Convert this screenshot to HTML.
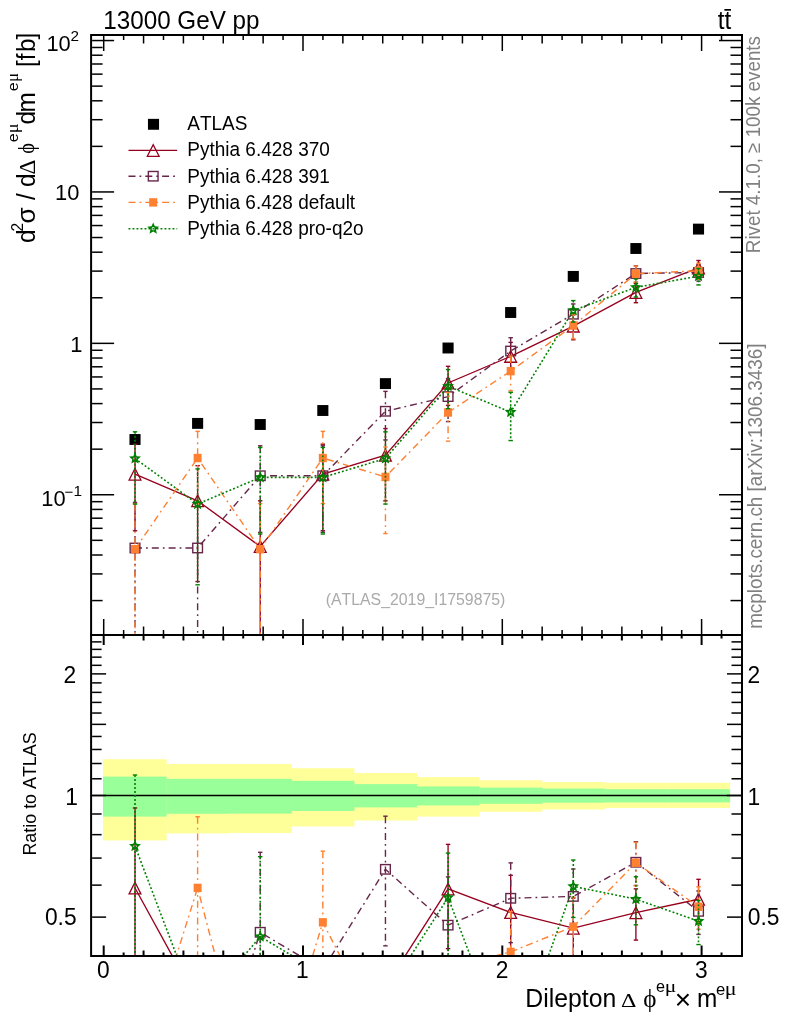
<!DOCTYPE html>
<html><head><meta charset="utf-8"><title>plot</title><style>html,body{margin:0;padding:0;background:#fff}svg{display:block}text{font-kerning:none;font-variant-ligatures:none}</style></head><body>
<svg width="786" height="1024" viewBox="0 0 786 1024" font-family="'Liberation Sans', sans-serif">
<rect width="786" height="1024" fill="#fff"/>
<defs>
<clipPath id="cm"><rect x="92.1" y="36.0" width="648.9" height="598.0"/></clipPath>
<clipPath id="cr"><rect x="92.1" y="636.0" width="648.9" height="319.0"/></clipPath>
</defs>
<rect x="103.00" y="759.2" width="63.61" height="81.20" fill="#ffff99"/>
<rect x="166.31" y="764.0" width="62.91" height="69.40" fill="#ffff99"/>
<rect x="228.92" y="764.0" width="62.91" height="69.00" fill="#ffff99"/>
<rect x="291.54" y="768.2" width="62.91" height="58.20" fill="#ffff99"/>
<rect x="354.15" y="773.0" width="62.91" height="47.50" fill="#ffff99"/>
<rect x="416.76" y="777.1" width="62.91" height="39.50" fill="#ffff99"/>
<rect x="479.37" y="780.2" width="62.91" height="31.60" fill="#ffff99"/>
<rect x="541.98" y="782.0" width="62.91" height="27.50" fill="#ffff99"/>
<rect x="604.60" y="782.8" width="62.91" height="25.20" fill="#ffff99"/>
<rect x="667.21" y="782.8" width="62.91" height="25.20" fill="#ffff99"/>
<rect x="103.00" y="776.6" width="63.61" height="40.00" fill="#99ff99"/>
<rect x="166.31" y="778.8" width="62.91" height="35.00" fill="#99ff99"/>
<rect x="228.92" y="778.8" width="62.91" height="34.80" fill="#99ff99"/>
<rect x="291.54" y="780.8" width="62.91" height="30.20" fill="#99ff99"/>
<rect x="354.15" y="784.1" width="62.91" height="23.30" fill="#99ff99"/>
<rect x="416.76" y="786.4" width="62.91" height="19.00" fill="#99ff99"/>
<rect x="479.37" y="787.6" width="62.91" height="16.20" fill="#99ff99"/>
<rect x="541.98" y="788.5" width="62.91" height="14.20" fill="#99ff99"/>
<rect x="604.60" y="789.2" width="62.91" height="13.20" fill="#99ff99"/>
<rect x="667.21" y="789.2" width="62.91" height="13.20" fill="#99ff99"/>
<g clip-path="url(#cm)">
<rect x="129.46" y="434.05" width="11.1" height="10.9" fill="#000"/>
<rect x="192.07" y="417.95" width="11.1" height="10.9" fill="#000"/>
<rect x="254.68" y="419.05" width="11.1" height="10.9" fill="#000"/>
<rect x="317.29" y="405.05" width="11.1" height="10.9" fill="#000"/>
<rect x="379.90" y="378.15" width="11.1" height="10.9" fill="#000"/>
<rect x="442.52" y="342.55" width="11.1" height="10.9" fill="#000"/>
<rect x="505.13" y="307.05" width="11.1" height="10.9" fill="#000"/>
<rect x="567.74" y="270.95" width="11.1" height="10.9" fill="#000"/>
<rect x="630.35" y="243.05" width="11.1" height="10.9" fill="#000"/>
<rect x="692.96" y="223.65" width="11.1" height="10.9" fill="#000"/>
<polyline points="135.01,474.15 197.62,500.81 260.23,546.38 322.84,474.15 385.45,455.23 448.07,382.99 510.68,356.33 573.29,326.12 635.90,292.39 698.51,267.98" fill="none" stroke="#96001e" stroke-width="1.35" />
<line x1="135.01" y1="444.18" x2="135.01" y2="530.77" stroke="#96001e" stroke-width="1.35" />
<line x1="132.81" y1="444.18" x2="137.21" y2="444.18" stroke="#96001e" stroke-width="1.4" />
<line x1="132.81" y1="530.77" x2="137.21" y2="530.77" stroke="#96001e" stroke-width="1.4" />
<line x1="197.62" y1="465.64" x2="197.62" y2="581.55" stroke="#96001e" stroke-width="1.35" />
<line x1="195.42" y1="465.64" x2="199.82" y2="465.64" stroke="#96001e" stroke-width="1.4" />
<line x1="195.42" y1="581.55" x2="199.82" y2="581.55" stroke="#96001e" stroke-width="1.4" />
<line x1="260.23" y1="500.81" x2="260.23" y2="700.00" stroke="#96001e" stroke-width="1.35" />
<line x1="258.03" y1="500.81" x2="262.43" y2="500.81" stroke="#96001e" stroke-width="1.4" />
<line x1="322.84" y1="444.18" x2="322.84" y2="530.77" stroke="#96001e" stroke-width="1.35" />
<line x1="320.64" y1="444.18" x2="325.04" y2="444.18" stroke="#96001e" stroke-width="1.4" />
<line x1="320.64" y1="530.77" x2="325.04" y2="530.77" stroke="#96001e" stroke-width="1.4" />
<line x1="385.45" y1="428.57" x2="385.45" y2="500.81" stroke="#96001e" stroke-width="1.35" />
<line x1="383.25" y1="428.57" x2="387.65" y2="428.57" stroke="#96001e" stroke-width="1.4" />
<line x1="383.25" y1="500.81" x2="387.65" y2="500.81" stroke="#96001e" stroke-width="1.4" />
<line x1="448.07" y1="366.32" x2="448.07" y2="405.39" stroke="#96001e" stroke-width="1.35" />
<line x1="445.87" y1="366.32" x2="450.27" y2="366.32" stroke="#96001e" stroke-width="1.4" />
<line x1="445.87" y1="405.39" x2="450.27" y2="405.39" stroke="#96001e" stroke-width="1.4" />
<line x1="510.68" y1="342.42" x2="510.68" y2="374.01" stroke="#96001e" stroke-width="1.35" />
<line x1="508.48" y1="342.42" x2="512.88" y2="342.42" stroke="#96001e" stroke-width="1.4" />
<line x1="508.48" y1="374.01" x2="512.88" y2="374.01" stroke="#96001e" stroke-width="1.4" />
<line x1="573.29" y1="314.83" x2="573.29" y2="339.76" stroke="#96001e" stroke-width="1.35" />
<line x1="571.09" y1="314.83" x2="575.49" y2="314.83" stroke="#96001e" stroke-width="1.4" />
<line x1="571.09" y1="339.76" x2="575.49" y2="339.76" stroke="#96001e" stroke-width="1.4" />
<line x1="635.90" y1="283.49" x2="635.90" y2="302.69" stroke="#96001e" stroke-width="1.35" />
<line x1="633.70" y1="283.49" x2="638.10" y2="283.49" stroke="#96001e" stroke-width="1.4" />
<line x1="633.70" y1="302.69" x2="638.10" y2="302.69" stroke="#96001e" stroke-width="1.4" />
<line x1="698.51" y1="260.51" x2="698.51" y2="276.42" stroke="#96001e" stroke-width="1.35" />
<line x1="696.31" y1="260.51" x2="700.71" y2="260.51" stroke="#96001e" stroke-width="1.4" />
<line x1="696.31" y1="276.42" x2="700.71" y2="276.42" stroke="#96001e" stroke-width="1.4" />
<path d="M129.11 480.05L135.01 468.40L140.91 480.05Z" fill="none" stroke="#96001e" stroke-width="1.3" stroke-linejoin="miter"/>
<path d="M191.72 506.71L197.62 495.06L203.52 506.71Z" fill="none" stroke="#96001e" stroke-width="1.3" stroke-linejoin="miter"/>
<path d="M254.33 552.28L260.23 540.63L266.13 552.28Z" fill="none" stroke="#96001e" stroke-width="1.3" stroke-linejoin="miter"/>
<path d="M316.94 480.05L322.84 468.40L328.74 480.05Z" fill="none" stroke="#96001e" stroke-width="1.3" stroke-linejoin="miter"/>
<path d="M379.55 461.13L385.45 449.48L391.35 461.13Z" fill="none" stroke="#96001e" stroke-width="1.3" stroke-linejoin="miter"/>
<path d="M442.17 388.89L448.07 377.24L453.97 388.89Z" fill="none" stroke="#96001e" stroke-width="1.3" stroke-linejoin="miter"/>
<path d="M504.78 362.23L510.68 350.58L516.58 362.23Z" fill="none" stroke="#96001e" stroke-width="1.3" stroke-linejoin="miter"/>
<path d="M567.39 332.02L573.29 320.37L579.19 332.02Z" fill="none" stroke="#96001e" stroke-width="1.3" stroke-linejoin="miter"/>
<path d="M630.00 298.29L635.90 286.64L641.80 298.29Z" fill="none" stroke="#96001e" stroke-width="1.3" stroke-linejoin="miter"/>
<path d="M692.61 273.88L698.51 262.23L704.41 273.88Z" fill="none" stroke="#96001e" stroke-width="1.3" stroke-linejoin="miter"/>
<polyline points="135.01,547.99 197.62,547.99 260.23,475.75 322.84,475.75 385.45,411.26 448.07,396.59 510.68,351.01 573.29,314.22 635.90,273.51 698.51,272.51" fill="none" stroke="#672649" stroke-width="1.4" stroke-dasharray="7 4 1.8 4"/>
<line x1="135.01" y1="502.41" x2="135.01" y2="700.00" stroke="#672649" stroke-width="1.4" stroke-dasharray="7 4 1.8 4"/>
<line x1="132.81" y1="502.41" x2="137.21" y2="502.41" stroke="#672649" stroke-width="1.4" />
<line x1="197.62" y1="502.41" x2="197.62" y2="700.00" stroke="#672649" stroke-width="1.4" stroke-dasharray="7 4 1.8 4"/>
<line x1="195.42" y1="502.41" x2="199.82" y2="502.41" stroke="#672649" stroke-width="1.4" />
<line x1="260.23" y1="445.79" x2="260.23" y2="532.38" stroke="#672649" stroke-width="1.4" stroke-dasharray="7 4 1.8 4"/>
<line x1="258.03" y1="445.79" x2="262.43" y2="445.79" stroke="#672649" stroke-width="1.4" />
<line x1="258.03" y1="532.38" x2="262.43" y2="532.38" stroke="#672649" stroke-width="1.4" />
<line x1="322.84" y1="445.79" x2="322.84" y2="532.38" stroke="#672649" stroke-width="1.4" stroke-dasharray="7 4 1.8 4"/>
<line x1="320.64" y1="445.79" x2="325.04" y2="445.79" stroke="#672649" stroke-width="1.4" />
<line x1="320.64" y1="532.38" x2="325.04" y2="532.38" stroke="#672649" stroke-width="1.4" />
<line x1="385.45" y1="391.36" x2="385.45" y2="439.95" stroke="#672649" stroke-width="1.4" stroke-dasharray="7 4 1.8 4"/>
<line x1="383.25" y1="391.36" x2="387.65" y2="391.36" stroke="#672649" stroke-width="1.4" />
<line x1="383.25" y1="439.95" x2="387.65" y2="439.95" stroke="#672649" stroke-width="1.4" />
<line x1="448.07" y1="378.52" x2="448.07" y2="421.58" stroke="#672649" stroke-width="1.4" stroke-dasharray="7 4 1.8 4"/>
<line x1="445.87" y1="378.52" x2="450.27" y2="378.52" stroke="#672649" stroke-width="1.4" />
<line x1="445.87" y1="421.58" x2="450.27" y2="421.58" stroke="#672649" stroke-width="1.4" />
<line x1="510.68" y1="337.74" x2="510.68" y2="367.65" stroke="#672649" stroke-width="1.4" stroke-dasharray="7 4 1.8 4"/>
<line x1="508.48" y1="337.74" x2="512.88" y2="337.74" stroke="#672649" stroke-width="1.4" />
<line x1="508.48" y1="367.65" x2="512.88" y2="367.65" stroke="#672649" stroke-width="1.4" />
<line x1="573.29" y1="303.95" x2="573.29" y2="326.39" stroke="#672649" stroke-width="1.4" stroke-dasharray="7 4 1.8 4"/>
<line x1="571.09" y1="303.95" x2="575.49" y2="303.95" stroke="#672649" stroke-width="1.4" />
<line x1="571.09" y1="326.39" x2="575.49" y2="326.39" stroke="#672649" stroke-width="1.4" />
<line x1="635.90" y1="265.83" x2="635.90" y2="282.22" stroke="#672649" stroke-width="1.4" stroke-dasharray="7 4 1.8 4"/>
<line x1="633.70" y1="265.83" x2="638.10" y2="265.83" stroke="#672649" stroke-width="1.4" />
<line x1="633.70" y1="282.22" x2="638.10" y2="282.22" stroke="#672649" stroke-width="1.4" />
<line x1="698.51" y1="264.88" x2="698.51" y2="281.15" stroke="#672649" stroke-width="1.4" stroke-dasharray="7 4 1.8 4"/>
<line x1="696.31" y1="264.88" x2="700.71" y2="264.88" stroke="#672649" stroke-width="1.4" />
<line x1="696.31" y1="281.15" x2="700.71" y2="281.15" stroke="#672649" stroke-width="1.4" />
<rect x="130.16" y="543.27" width="9.7" height="9.45" fill="none" stroke="#672649" stroke-width="1.4"/>
<rect x="192.77" y="543.27" width="9.7" height="9.45" fill="none" stroke="#672649" stroke-width="1.4"/>
<rect x="255.38" y="471.03" width="9.7" height="9.45" fill="none" stroke="#672649" stroke-width="1.4"/>
<rect x="317.99" y="471.03" width="9.7" height="9.45" fill="none" stroke="#672649" stroke-width="1.4"/>
<rect x="380.60" y="406.54" width="9.7" height="9.45" fill="none" stroke="#672649" stroke-width="1.4"/>
<rect x="443.22" y="391.87" width="9.7" height="9.45" fill="none" stroke="#672649" stroke-width="1.4"/>
<rect x="505.83" y="346.29" width="9.7" height="9.45" fill="none" stroke="#672649" stroke-width="1.4"/>
<rect x="568.44" y="309.50" width="9.7" height="9.45" fill="none" stroke="#672649" stroke-width="1.4"/>
<rect x="631.05" y="268.79" width="9.7" height="9.45" fill="none" stroke="#672649" stroke-width="1.4"/>
<rect x="693.66" y="267.79" width="9.7" height="9.45" fill="none" stroke="#672649" stroke-width="1.4"/>
<polyline points="135.01,549.18 197.62,458.03 260.23,549.18 322.84,458.03 385.45,476.94 448.07,412.45 510.68,371.12 573.29,325.54 635.90,273.70 698.51,270.78" fill="none" stroke="#ff8030" stroke-width="1.4" stroke-dasharray="7 4 1.8 4"/>
<line x1="135.01" y1="503.61" x2="135.01" y2="700.00" stroke="#ff8030" stroke-width="1.4" stroke-dasharray="7 4 1.8 4"/>
<line x1="132.81" y1="503.61" x2="137.21" y2="503.61" stroke="#ff8030" stroke-width="1.4" />
<line x1="197.62" y1="431.37" x2="197.62" y2="503.61" stroke="#ff8030" stroke-width="1.4" stroke-dasharray="7 4 1.8 4"/>
<line x1="195.42" y1="431.37" x2="199.82" y2="431.37" stroke="#ff8030" stroke-width="1.4" />
<line x1="195.42" y1="503.61" x2="199.82" y2="503.61" stroke="#ff8030" stroke-width="1.4" />
<line x1="260.23" y1="503.61" x2="260.23" y2="700.00" stroke="#ff8030" stroke-width="1.4" stroke-dasharray="7 4 1.8 4"/>
<line x1="258.03" y1="503.61" x2="262.43" y2="503.61" stroke="#ff8030" stroke-width="1.4" />
<line x1="322.84" y1="431.37" x2="322.84" y2="503.61" stroke="#ff8030" stroke-width="1.4" stroke-dasharray="7 4 1.8 4"/>
<line x1="320.64" y1="431.37" x2="325.04" y2="431.37" stroke="#ff8030" stroke-width="1.4" />
<line x1="320.64" y1="503.61" x2="325.04" y2="503.61" stroke="#ff8030" stroke-width="1.4" />
<line x1="385.45" y1="446.98" x2="385.45" y2="533.57" stroke="#ff8030" stroke-width="1.4" stroke-dasharray="7 4 1.8 4"/>
<line x1="383.25" y1="446.98" x2="387.65" y2="446.98" stroke="#ff8030" stroke-width="1.4" />
<line x1="383.25" y1="533.57" x2="387.65" y2="533.57" stroke="#ff8030" stroke-width="1.4" />
<line x1="448.07" y1="392.55" x2="448.07" y2="441.14" stroke="#ff8030" stroke-width="1.4" stroke-dasharray="7 4 1.8 4"/>
<line x1="445.87" y1="392.55" x2="450.27" y2="392.55" stroke="#ff8030" stroke-width="1.4" />
<line x1="445.87" y1="441.14" x2="450.27" y2="441.14" stroke="#ff8030" stroke-width="1.4" />
<line x1="510.68" y1="356.02" x2="510.68" y2="390.76" stroke="#ff8030" stroke-width="1.4" stroke-dasharray="7 4 1.8 4"/>
<line x1="508.48" y1="356.02" x2="512.88" y2="356.02" stroke="#ff8030" stroke-width="1.4" />
<line x1="508.48" y1="390.76" x2="512.88" y2="390.76" stroke="#ff8030" stroke-width="1.4" />
<line x1="573.29" y1="314.52" x2="573.29" y2="338.80" stroke="#ff8030" stroke-width="1.4" stroke-dasharray="7 4 1.8 4"/>
<line x1="571.09" y1="314.52" x2="575.49" y2="314.52" stroke="#ff8030" stroke-width="1.4" />
<line x1="571.09" y1="338.80" x2="575.49" y2="338.80" stroke="#ff8030" stroke-width="1.4" />
<line x1="635.90" y1="266.07" x2="635.90" y2="282.34" stroke="#ff8030" stroke-width="1.4" stroke-dasharray="7 4 1.8 4"/>
<line x1="633.70" y1="266.07" x2="638.10" y2="266.07" stroke="#ff8030" stroke-width="1.4" />
<line x1="633.70" y1="282.34" x2="638.10" y2="282.34" stroke="#ff8030" stroke-width="1.4" />
<line x1="698.51" y1="263.31" x2="698.51" y2="279.21" stroke="#ff8030" stroke-width="1.4" stroke-dasharray="7 4 1.8 4"/>
<line x1="696.31" y1="263.31" x2="700.71" y2="263.31" stroke="#ff8030" stroke-width="1.4" />
<line x1="696.31" y1="279.21" x2="700.71" y2="279.21" stroke="#ff8030" stroke-width="1.4" />
<rect x="131.01" y="544.98" width="8.0" height="8.4" fill="#ff8030"/>
<rect x="193.62" y="453.83" width="8.0" height="8.4" fill="#ff8030"/>
<rect x="256.23" y="544.98" width="8.0" height="8.4" fill="#ff8030"/>
<rect x="318.84" y="453.83" width="8.0" height="8.4" fill="#ff8030"/>
<rect x="381.45" y="472.74" width="8.0" height="8.4" fill="#ff8030"/>
<rect x="444.07" y="408.25" width="8.0" height="8.4" fill="#ff8030"/>
<rect x="506.68" y="366.92" width="8.0" height="8.4" fill="#ff8030"/>
<rect x="569.29" y="321.34" width="8.0" height="8.4" fill="#ff8030"/>
<rect x="631.90" y="269.50" width="8.0" height="8.4" fill="#ff8030"/>
<rect x="694.51" y="266.58" width="8.0" height="8.4" fill="#ff8030"/>
<polyline points="135.01,458.48 197.62,504.06 260.23,477.40 322.84,477.40 385.45,458.48 448.07,386.25 510.68,412.09 573.29,310.45 635.90,287.35 698.51,276.18" fill="none" stroke="#008000" stroke-width="1.6" stroke-dasharray="1.9 2.1"/>
<line x1="135.01" y1="431.82" x2="135.01" y2="504.06" stroke="#008000" stroke-width="1.6" stroke-dasharray="1.9 2.1"/>
<line x1="132.81" y1="431.82" x2="137.21" y2="431.82" stroke="#008000" stroke-width="1.4" />
<line x1="132.81" y1="504.06" x2="137.21" y2="504.06" stroke="#008000" stroke-width="1.4" />
<line x1="197.62" y1="468.89" x2="197.62" y2="584.80" stroke="#008000" stroke-width="1.6" stroke-dasharray="1.9 2.1"/>
<line x1="195.42" y1="468.89" x2="199.82" y2="468.89" stroke="#008000" stroke-width="1.4" />
<line x1="195.42" y1="584.80" x2="199.82" y2="584.80" stroke="#008000" stroke-width="1.4" />
<line x1="260.23" y1="447.43" x2="260.23" y2="534.02" stroke="#008000" stroke-width="1.6" stroke-dasharray="1.9 2.1"/>
<line x1="258.03" y1="447.43" x2="262.43" y2="447.43" stroke="#008000" stroke-width="1.4" />
<line x1="258.03" y1="534.02" x2="262.43" y2="534.02" stroke="#008000" stroke-width="1.4" />
<line x1="322.84" y1="447.43" x2="322.84" y2="534.02" stroke="#008000" stroke-width="1.6" stroke-dasharray="1.9 2.1"/>
<line x1="320.64" y1="447.43" x2="325.04" y2="447.43" stroke="#008000" stroke-width="1.4" />
<line x1="320.64" y1="534.02" x2="325.04" y2="534.02" stroke="#008000" stroke-width="1.4" />
<line x1="385.45" y1="431.82" x2="385.45" y2="504.06" stroke="#008000" stroke-width="1.6" stroke-dasharray="1.9 2.1"/>
<line x1="383.25" y1="431.82" x2="387.65" y2="431.82" stroke="#008000" stroke-width="1.4" />
<line x1="383.25" y1="504.06" x2="387.65" y2="504.06" stroke="#008000" stroke-width="1.4" />
<line x1="448.07" y1="369.57" x2="448.07" y2="408.64" stroke="#008000" stroke-width="1.6" stroke-dasharray="1.9 2.1"/>
<line x1="445.87" y1="369.57" x2="450.27" y2="369.57" stroke="#008000" stroke-width="1.4" />
<line x1="445.87" y1="408.64" x2="450.27" y2="408.64" stroke="#008000" stroke-width="1.4" />
<line x1="510.68" y1="392.29" x2="510.68" y2="440.55" stroke="#008000" stroke-width="1.6" stroke-dasharray="1.9 2.1"/>
<line x1="508.48" y1="392.29" x2="512.88" y2="392.29" stroke="#008000" stroke-width="1.4" />
<line x1="508.48" y1="440.55" x2="512.88" y2="440.55" stroke="#008000" stroke-width="1.4" />
<line x1="573.29" y1="300.57" x2="573.29" y2="322.09" stroke="#008000" stroke-width="1.6" stroke-dasharray="1.9 2.1"/>
<line x1="571.09" y1="300.57" x2="575.49" y2="300.57" stroke="#008000" stroke-width="1.4" />
<line x1="571.09" y1="322.09" x2="575.49" y2="322.09" stroke="#008000" stroke-width="1.4" />
<line x1="635.90" y1="278.96" x2="635.90" y2="296.97" stroke="#008000" stroke-width="1.6" stroke-dasharray="1.9 2.1"/>
<line x1="633.70" y1="278.96" x2="638.10" y2="278.96" stroke="#008000" stroke-width="1.4" />
<line x1="633.70" y1="296.97" x2="638.10" y2="296.97" stroke="#008000" stroke-width="1.4" />
<line x1="698.51" y1="268.43" x2="698.51" y2="284.96" stroke="#008000" stroke-width="1.6" stroke-dasharray="1.9 2.1"/>
<line x1="696.31" y1="268.43" x2="700.71" y2="268.43" stroke="#008000" stroke-width="1.4" />
<line x1="696.31" y1="284.96" x2="700.71" y2="284.96" stroke="#008000" stroke-width="1.4" />
<path d="M135.01 452.18L136.71 456.14L141.00 456.54L137.76 459.38L138.71 463.58L135.01 461.38L131.30 463.58L132.25 459.38L129.01 456.54L133.30 456.14ZM135.01 460.23L133.34 459.02L133.98 457.07L136.03 457.07L136.67 459.02Z" fill="#008000" fill-rule="evenodd"/>
<path d="M197.62 497.76L199.32 501.71L203.61 502.11L200.38 504.95L201.32 509.15L197.62 506.96L193.91 509.15L194.86 504.95L191.63 502.11L195.91 501.71ZM197.62 505.81L195.95 504.60L196.59 502.64L198.65 502.64L199.28 504.60Z" fill="#008000" fill-rule="evenodd"/>
<path d="M260.23 471.10L261.93 475.05L266.22 475.45L262.99 478.29L263.93 482.49L260.23 480.30L256.53 482.49L257.47 478.29L254.24 475.45L258.53 475.05ZM260.23 479.15L258.57 477.94L259.20 475.98L261.26 475.98L261.89 477.94Z" fill="#008000" fill-rule="evenodd"/>
<path d="M322.84 471.10L324.55 475.05L328.83 475.45L325.60 478.29L326.54 482.49L322.84 480.30L319.14 482.49L320.08 478.29L316.85 475.45L321.14 475.05ZM322.84 479.15L321.18 477.94L321.81 475.98L323.87 475.98L324.51 477.94Z" fill="#008000" fill-rule="evenodd"/>
<path d="M385.45 452.18L387.16 456.14L391.45 456.54L388.21 459.38L389.16 463.58L385.45 461.38L381.75 463.58L382.70 459.38L379.46 456.54L383.75 456.14ZM385.45 460.23L383.79 459.02L384.43 457.07L386.48 457.07L387.12 459.02Z" fill="#008000" fill-rule="evenodd"/>
<path d="M448.07 379.95L449.77 383.90L454.06 384.30L450.82 387.14L451.77 391.34L448.07 389.15L444.36 391.34L445.31 387.14L442.07 384.30L446.36 383.90ZM448.07 388.00L446.40 386.79L447.04 384.83L449.09 384.83L449.73 386.79Z" fill="#008000" fill-rule="evenodd"/>
<path d="M510.68 405.79L512.38 409.74L516.67 410.14L513.44 412.99L514.38 417.19L510.68 414.99L506.97 417.19L507.92 412.99L504.69 410.14L508.97 409.74ZM510.68 413.84L509.01 412.63L509.65 410.67L511.71 410.67L512.34 412.63Z" fill="#008000" fill-rule="evenodd"/>
<path d="M573.29 304.15L574.99 308.11L579.28 308.51L576.05 311.35L576.99 315.55L573.29 313.35L569.59 315.55L570.53 311.35L567.30 308.51L571.58 308.11ZM573.29 312.20L571.63 311.00L572.26 309.04L574.32 309.04L574.95 311.00Z" fill="#008000" fill-rule="evenodd"/>
<path d="M635.90 281.05L637.61 285.00L641.89 285.40L638.66 288.25L639.60 292.45L635.90 290.25L632.20 292.45L633.14 288.25L629.91 285.40L634.20 285.00ZM635.90 289.10L634.24 287.89L634.87 285.93L636.93 285.93L637.57 287.89Z" fill="#008000" fill-rule="evenodd"/>
<path d="M698.51 269.88L700.22 273.83L704.51 274.23L701.27 277.07L702.22 281.28L698.51 279.08L694.81 281.28L695.76 277.07L692.52 274.23L696.81 273.83ZM698.51 277.93L696.85 276.72L697.48 274.76L699.54 274.76L700.18 276.72Z" fill="#008000" fill-rule="evenodd"/>
</g>
<g clip-path="url(#cr)">
<line x1="91.10" y1="795.50" x2="742.00" y2="795.50" stroke="#000" stroke-width="1.3" />
<polyline points="135.01,887.95 197.62,1002.05 260.23,1120.74 322.84,965.34 385.45,986.64 448.07,888.88 510.68,912.47 573.29,928.17 635.90,912.63 698.51,899.25" fill="none" stroke="#96001e" stroke-width="1.35" />
<line x1="135.01" y1="807.99" x2="135.01" y2="1039.06" stroke="#96001e" stroke-width="1.35" />
<line x1="132.81" y1="807.99" x2="137.21" y2="807.99" stroke="#96001e" stroke-width="1.4" />
<line x1="132.81" y1="1039.06" x2="137.21" y2="1039.06" stroke="#96001e" stroke-width="1.4" />
<line x1="448.07" y1="844.38" x2="448.07" y2="948.65" stroke="#96001e" stroke-width="1.35" />
<line x1="445.87" y1="844.38" x2="450.27" y2="844.38" stroke="#96001e" stroke-width="1.4" />
<line x1="445.87" y1="948.65" x2="450.27" y2="948.65" stroke="#96001e" stroke-width="1.4" />
<line x1="510.68" y1="875.34" x2="510.68" y2="959.63" stroke="#96001e" stroke-width="1.35" />
<line x1="508.48" y1="875.34" x2="512.88" y2="875.34" stroke="#96001e" stroke-width="1.4" />
<line x1="508.48" y1="959.63" x2="512.88" y2="959.63" stroke="#96001e" stroke-width="1.4" />
<line x1="573.29" y1="898.05" x2="573.29" y2="964.56" stroke="#96001e" stroke-width="1.35" />
<line x1="571.09" y1="898.05" x2="575.49" y2="898.05" stroke="#96001e" stroke-width="1.4" />
<line x1="571.09" y1="964.56" x2="575.49" y2="964.56" stroke="#96001e" stroke-width="1.4" />
<line x1="635.90" y1="888.88" x2="635.90" y2="940.10" stroke="#96001e" stroke-width="1.35" />
<line x1="633.70" y1="888.88" x2="638.10" y2="888.88" stroke="#96001e" stroke-width="1.4" />
<line x1="633.70" y1="940.10" x2="638.10" y2="940.10" stroke="#96001e" stroke-width="1.4" />
<line x1="698.51" y1="879.31" x2="698.51" y2="921.76" stroke="#96001e" stroke-width="1.35" />
<line x1="696.31" y1="879.31" x2="700.71" y2="879.31" stroke="#96001e" stroke-width="1.4" />
<line x1="696.31" y1="921.76" x2="700.71" y2="921.76" stroke="#96001e" stroke-width="1.4" />
<path d="M129.11 893.85L135.01 882.20L140.91 893.85Z" fill="none" stroke="#96001e" stroke-width="1.3" stroke-linejoin="miter"/>
<path d="M442.17 894.78L448.07 883.13L453.97 894.78Z" fill="none" stroke="#96001e" stroke-width="1.3" stroke-linejoin="miter"/>
<path d="M504.78 918.37L510.68 906.72L516.58 918.37Z" fill="none" stroke="#96001e" stroke-width="1.3" stroke-linejoin="miter"/>
<path d="M567.39 934.07L573.29 922.42L579.19 934.07Z" fill="none" stroke="#96001e" stroke-width="1.3" stroke-linejoin="miter"/>
<path d="M630.00 918.53L635.90 906.88L641.80 918.53Z" fill="none" stroke="#96001e" stroke-width="1.3" stroke-linejoin="miter"/>
<path d="M692.61 905.15L698.51 893.50L704.41 905.15Z" fill="none" stroke="#96001e" stroke-width="1.3" stroke-linejoin="miter"/>
<polyline points="135.01,1084.99 197.62,1127.95 260.23,932.26 322.84,969.62 385.45,869.31 448.07,925.15 510.68,898.27 573.29,896.41 635.90,862.25 698.51,911.33" fill="none" stroke="#672649" stroke-width="1.4" stroke-dasharray="7 4 1.8 4"/>
<line x1="260.23" y1="852.30" x2="260.23" y2="1083.37" stroke="#672649" stroke-width="1.4" stroke-dasharray="7 4 1.8 4"/>
<line x1="258.03" y1="852.30" x2="262.43" y2="852.30" stroke="#672649" stroke-width="1.4" />
<line x1="258.03" y1="1083.37" x2="262.43" y2="1083.37" stroke="#672649" stroke-width="1.4" />
<line x1="385.45" y1="816.19" x2="385.45" y2="945.85" stroke="#672649" stroke-width="1.4" stroke-dasharray="7 4 1.8 4"/>
<line x1="383.25" y1="816.19" x2="387.65" y2="816.19" stroke="#672649" stroke-width="1.4" />
<line x1="383.25" y1="945.85" x2="387.65" y2="945.85" stroke="#672649" stroke-width="1.4" />
<line x1="448.07" y1="876.94" x2="448.07" y2="991.85" stroke="#672649" stroke-width="1.4" stroke-dasharray="7 4 1.8 4"/>
<line x1="445.87" y1="876.94" x2="450.27" y2="876.94" stroke="#672649" stroke-width="1.4" />
<line x1="445.87" y1="991.85" x2="450.27" y2="991.85" stroke="#672649" stroke-width="1.4" />
<line x1="510.68" y1="862.86" x2="510.68" y2="942.67" stroke="#672649" stroke-width="1.4" stroke-dasharray="7 4 1.8 4"/>
<line x1="508.48" y1="862.86" x2="512.88" y2="862.86" stroke="#672649" stroke-width="1.4" />
<line x1="508.48" y1="942.67" x2="512.88" y2="942.67" stroke="#672649" stroke-width="1.4" />
<line x1="573.29" y1="869.01" x2="573.29" y2="928.90" stroke="#672649" stroke-width="1.4" stroke-dasharray="7 4 1.8 4"/>
<line x1="571.09" y1="869.01" x2="575.49" y2="869.01" stroke="#672649" stroke-width="1.4" />
<line x1="571.09" y1="928.90" x2="575.49" y2="928.90" stroke="#672649" stroke-width="1.4" />
<line x1="635.90" y1="841.73" x2="635.90" y2="885.48" stroke="#672649" stroke-width="1.4" stroke-dasharray="7 4 1.8 4"/>
<line x1="633.70" y1="841.73" x2="638.10" y2="841.73" stroke="#672649" stroke-width="1.4" />
<line x1="633.70" y1="885.48" x2="638.10" y2="885.48" stroke="#672649" stroke-width="1.4" />
<line x1="698.51" y1="890.97" x2="698.51" y2="934.38" stroke="#672649" stroke-width="1.4" stroke-dasharray="7 4 1.8 4"/>
<line x1="696.31" y1="890.97" x2="700.71" y2="890.97" stroke="#672649" stroke-width="1.4" />
<line x1="696.31" y1="934.38" x2="700.71" y2="934.38" stroke="#672649" stroke-width="1.4" />
<rect x="255.38" y="927.54" width="9.7" height="9.45" fill="none" stroke="#672649" stroke-width="1.4"/>
<rect x="380.60" y="864.59" width="9.7" height="9.45" fill="none" stroke="#672649" stroke-width="1.4"/>
<rect x="443.22" y="920.43" width="9.7" height="9.45" fill="none" stroke="#672649" stroke-width="1.4"/>
<rect x="505.83" y="893.55" width="9.7" height="9.45" fill="none" stroke="#672649" stroke-width="1.4"/>
<rect x="568.44" y="891.69" width="9.7" height="9.45" fill="none" stroke="#672649" stroke-width="1.4"/>
<rect x="631.05" y="857.53" width="9.7" height="9.45" fill="none" stroke="#672649" stroke-width="1.4"/>
<rect x="693.66" y="906.61" width="9.7" height="9.45" fill="none" stroke="#672649" stroke-width="1.4"/>
<polyline points="135.01,1088.18 197.62,887.91 260.23,1128.20 322.84,922.33 385.45,1044.58 448.07,967.49 510.68,951.93 573.29,926.64 635.90,862.75 698.51,906.72" fill="none" stroke="#ff8030" stroke-width="1.4" stroke-dasharray="7 4 1.8 4"/>
<line x1="197.62" y1="816.76" x2="197.62" y2="1009.52" stroke="#ff8030" stroke-width="1.4" stroke-dasharray="7 4 1.8 4"/>
<line x1="195.42" y1="816.76" x2="199.82" y2="816.76" stroke="#ff8030" stroke-width="1.4" />
<line x1="195.42" y1="1009.52" x2="199.82" y2="1009.52" stroke="#ff8030" stroke-width="1.4" />
<line x1="322.84" y1="851.19" x2="322.84" y2="1043.94" stroke="#ff8030" stroke-width="1.4" stroke-dasharray="7 4 1.8 4"/>
<line x1="320.64" y1="851.19" x2="325.04" y2="851.19" stroke="#ff8030" stroke-width="1.4" />
<line x1="320.64" y1="1043.94" x2="325.04" y2="1043.94" stroke="#ff8030" stroke-width="1.4" />
<line x1="510.68" y1="911.63" x2="510.68" y2="1004.33" stroke="#ff8030" stroke-width="1.4" stroke-dasharray="7 4 1.8 4"/>
<line x1="508.48" y1="911.63" x2="512.88" y2="911.63" stroke="#ff8030" stroke-width="1.4" />
<line x1="508.48" y1="1004.33" x2="512.88" y2="1004.33" stroke="#ff8030" stroke-width="1.4" />
<line x1="573.29" y1="897.22" x2="573.29" y2="962.01" stroke="#ff8030" stroke-width="1.4" stroke-dasharray="7 4 1.8 4"/>
<line x1="571.09" y1="897.22" x2="575.49" y2="897.22" stroke="#ff8030" stroke-width="1.4" />
<line x1="571.09" y1="962.01" x2="575.49" y2="962.01" stroke="#ff8030" stroke-width="1.4" />
<line x1="635.90" y1="842.38" x2="635.90" y2="885.80" stroke="#ff8030" stroke-width="1.4" stroke-dasharray="7 4 1.8 4"/>
<line x1="633.70" y1="842.38" x2="638.10" y2="842.38" stroke="#ff8030" stroke-width="1.4" />
<line x1="633.70" y1="885.80" x2="638.10" y2="885.80" stroke="#ff8030" stroke-width="1.4" />
<line x1="698.51" y1="886.77" x2="698.51" y2="929.22" stroke="#ff8030" stroke-width="1.4" stroke-dasharray="7 4 1.8 4"/>
<line x1="696.31" y1="886.77" x2="700.71" y2="886.77" stroke="#ff8030" stroke-width="1.4" />
<line x1="696.31" y1="929.22" x2="700.71" y2="929.22" stroke="#ff8030" stroke-width="1.4" />
<rect x="193.62" y="883.71" width="8.0" height="8.4" fill="#ff8030"/>
<rect x="318.84" y="918.13" width="8.0" height="8.4" fill="#ff8030"/>
<rect x="506.68" y="947.73" width="8.0" height="8.4" fill="#ff8030"/>
<rect x="569.29" y="922.44" width="8.0" height="8.4" fill="#ff8030"/>
<rect x="631.90" y="858.55" width="8.0" height="8.4" fill="#ff8030"/>
<rect x="694.51" y="902.52" width="8.0" height="8.4" fill="#ff8030"/>
<polyline points="135.01,846.15 197.62,1010.73 260.23,936.65 322.84,974.01 385.45,995.32 448.07,897.56 510.68,1061.25 573.29,886.37 635.90,899.17 698.51,921.13" fill="none" stroke="#008000" stroke-width="1.6" stroke-dasharray="1.9 2.1"/>
<line x1="135.01" y1="775.01" x2="135.01" y2="967.77" stroke="#008000" stroke-width="1.6" stroke-dasharray="1.9 2.1"/>
<line x1="132.81" y1="775.01" x2="137.21" y2="775.01" stroke="#008000" stroke-width="1.4" />
<line x1="132.81" y1="967.77" x2="137.21" y2="967.77" stroke="#008000" stroke-width="1.4" />
<line x1="260.23" y1="856.69" x2="260.23" y2="1087.76" stroke="#008000" stroke-width="1.6" stroke-dasharray="1.9 2.1"/>
<line x1="258.03" y1="856.69" x2="262.43" y2="856.69" stroke="#008000" stroke-width="1.4" />
<line x1="258.03" y1="1087.76" x2="262.43" y2="1087.76" stroke="#008000" stroke-width="1.4" />
<line x1="448.07" y1="853.06" x2="448.07" y2="957.32" stroke="#008000" stroke-width="1.6" stroke-dasharray="1.9 2.1"/>
<line x1="445.87" y1="853.06" x2="450.27" y2="853.06" stroke="#008000" stroke-width="1.4" />
<line x1="445.87" y1="957.32" x2="450.27" y2="957.32" stroke="#008000" stroke-width="1.4" />
<line x1="573.29" y1="860.00" x2="573.29" y2="917.43" stroke="#008000" stroke-width="1.6" stroke-dasharray="1.9 2.1"/>
<line x1="571.09" y1="860.00" x2="575.49" y2="860.00" stroke="#008000" stroke-width="1.4" />
<line x1="571.09" y1="917.43" x2="575.49" y2="917.43" stroke="#008000" stroke-width="1.4" />
<line x1="635.90" y1="876.78" x2="635.90" y2="924.83" stroke="#008000" stroke-width="1.6" stroke-dasharray="1.9 2.1"/>
<line x1="633.70" y1="876.78" x2="638.10" y2="876.78" stroke="#008000" stroke-width="1.4" />
<line x1="633.70" y1="924.83" x2="638.10" y2="924.83" stroke="#008000" stroke-width="1.4" />
<line x1="698.51" y1="900.46" x2="698.51" y2="944.55" stroke="#008000" stroke-width="1.6" stroke-dasharray="1.9 2.1"/>
<line x1="696.31" y1="900.46" x2="700.71" y2="900.46" stroke="#008000" stroke-width="1.4" />
<line x1="696.31" y1="944.55" x2="700.71" y2="944.55" stroke="#008000" stroke-width="1.4" />
<path d="M135.01 839.85L136.71 843.81L141.00 844.21L137.76 847.05L138.71 851.25L135.01 849.05L131.30 851.25L132.25 847.05L129.01 844.21L133.30 843.81ZM135.01 847.90L133.34 846.69L133.98 844.74L136.03 844.74L136.67 846.69Z" fill="#008000" fill-rule="evenodd"/>
<path d="M260.23 930.35L261.93 934.31L266.22 934.71L262.99 937.55L263.93 941.75L260.23 939.55L256.53 941.75L257.47 937.55L254.24 934.71L258.53 934.31ZM260.23 938.40L258.57 937.20L259.20 935.24L261.26 935.24L261.89 937.20Z" fill="#008000" fill-rule="evenodd"/>
<path d="M448.07 891.26L449.77 895.21L454.06 895.61L450.82 898.45L451.77 902.65L448.07 900.46L444.36 902.65L445.31 898.45L442.07 895.61L446.36 895.21ZM448.07 899.31L446.40 898.10L447.04 896.14L449.09 896.14L449.73 898.10Z" fill="#008000" fill-rule="evenodd"/>
<path d="M573.29 880.07L574.99 884.03L579.28 884.43L576.05 887.27L576.99 891.47L573.29 889.27L569.59 891.47L570.53 887.27L567.30 884.43L571.58 884.03ZM573.29 888.12L571.63 886.91L572.26 884.96L574.32 884.96L574.95 886.91Z" fill="#008000" fill-rule="evenodd"/>
<path d="M635.90 892.87L637.61 896.82L641.89 897.22L638.66 900.06L639.60 904.26L635.90 902.07L632.20 904.26L633.14 900.06L629.91 897.22L634.20 896.82ZM635.90 900.92L634.24 899.71L634.87 897.75L636.93 897.75L637.57 899.71Z" fill="#008000" fill-rule="evenodd"/>
<path d="M698.51 914.83L700.22 918.78L704.51 919.18L701.27 922.02L702.22 926.22L698.51 924.03L694.81 926.22L695.76 922.02L692.52 919.18L696.81 918.78ZM698.51 922.88L696.85 921.67L697.48 919.71L699.54 919.71L700.18 921.67Z" fill="#008000" fill-rule="evenodd"/>
</g>
<rect x="91.1" y="35.0" width="650.9" height="600.0" fill="none" stroke="#000" stroke-width="2"/>
<rect x="91.1" y="635.0" width="650.9" height="321.0" fill="none" stroke="#000" stroke-width="2"/>
<line x1="103.70" y1="36.00" x2="103.70" y2="51.00" stroke="#000" stroke-width="1.5" />
<line x1="103.70" y1="634.00" x2="103.70" y2="619.00" stroke="#000" stroke-width="1.5" />
<line x1="103.70" y1="636.00" x2="103.70" y2="645.00" stroke="#000" stroke-width="2.0" />
<line x1="103.70" y1="955.00" x2="103.70" y2="945.50" stroke="#000" stroke-width="2.0" />
<line x1="123.63" y1="36.00" x2="123.63" y2="40.00" stroke="#000" stroke-width="1.5" />
<line x1="123.63" y1="634.00" x2="123.63" y2="630.00" stroke="#000" stroke-width="1.5" />
<line x1="123.63" y1="636.00" x2="123.63" y2="638.50" stroke="#000" stroke-width="2.0" />
<line x1="123.63" y1="955.00" x2="123.63" y2="952.50" stroke="#000" stroke-width="2.0" />
<line x1="143.56" y1="36.00" x2="143.56" y2="43.50" stroke="#000" stroke-width="1.5" />
<line x1="143.56" y1="634.00" x2="143.56" y2="626.50" stroke="#000" stroke-width="1.5" />
<line x1="143.56" y1="636.00" x2="143.56" y2="640.50" stroke="#000" stroke-width="2.0" />
<line x1="143.56" y1="955.00" x2="143.56" y2="950.50" stroke="#000" stroke-width="2.0" />
<line x1="163.49" y1="36.00" x2="163.49" y2="40.00" stroke="#000" stroke-width="1.5" />
<line x1="163.49" y1="634.00" x2="163.49" y2="630.00" stroke="#000" stroke-width="1.5" />
<line x1="163.49" y1="636.00" x2="163.49" y2="638.50" stroke="#000" stroke-width="2.0" />
<line x1="163.49" y1="955.00" x2="163.49" y2="952.50" stroke="#000" stroke-width="2.0" />
<line x1="183.42" y1="36.00" x2="183.42" y2="43.50" stroke="#000" stroke-width="1.5" />
<line x1="183.42" y1="634.00" x2="183.42" y2="626.50" stroke="#000" stroke-width="1.5" />
<line x1="183.42" y1="636.00" x2="183.42" y2="640.50" stroke="#000" stroke-width="2.0" />
<line x1="183.42" y1="955.00" x2="183.42" y2="950.50" stroke="#000" stroke-width="2.0" />
<line x1="203.35" y1="36.00" x2="203.35" y2="40.00" stroke="#000" stroke-width="1.5" />
<line x1="203.35" y1="634.00" x2="203.35" y2="630.00" stroke="#000" stroke-width="1.5" />
<line x1="203.35" y1="636.00" x2="203.35" y2="638.50" stroke="#000" stroke-width="2.0" />
<line x1="203.35" y1="955.00" x2="203.35" y2="952.50" stroke="#000" stroke-width="2.0" />
<line x1="223.28" y1="36.00" x2="223.28" y2="43.50" stroke="#000" stroke-width="1.5" />
<line x1="223.28" y1="634.00" x2="223.28" y2="626.50" stroke="#000" stroke-width="1.5" />
<line x1="223.28" y1="636.00" x2="223.28" y2="640.50" stroke="#000" stroke-width="2.0" />
<line x1="223.28" y1="955.00" x2="223.28" y2="950.50" stroke="#000" stroke-width="2.0" />
<line x1="243.21" y1="36.00" x2="243.21" y2="40.00" stroke="#000" stroke-width="1.5" />
<line x1="243.21" y1="634.00" x2="243.21" y2="630.00" stroke="#000" stroke-width="1.5" />
<line x1="243.21" y1="636.00" x2="243.21" y2="638.50" stroke="#000" stroke-width="2.0" />
<line x1="243.21" y1="955.00" x2="243.21" y2="952.50" stroke="#000" stroke-width="2.0" />
<line x1="263.14" y1="36.00" x2="263.14" y2="43.50" stroke="#000" stroke-width="1.5" />
<line x1="263.14" y1="634.00" x2="263.14" y2="626.50" stroke="#000" stroke-width="1.5" />
<line x1="263.14" y1="636.00" x2="263.14" y2="640.50" stroke="#000" stroke-width="2.0" />
<line x1="263.14" y1="955.00" x2="263.14" y2="950.50" stroke="#000" stroke-width="2.0" />
<line x1="283.07" y1="36.00" x2="283.07" y2="40.00" stroke="#000" stroke-width="1.5" />
<line x1="283.07" y1="634.00" x2="283.07" y2="630.00" stroke="#000" stroke-width="1.5" />
<line x1="283.07" y1="636.00" x2="283.07" y2="638.50" stroke="#000" stroke-width="2.0" />
<line x1="283.07" y1="955.00" x2="283.07" y2="952.50" stroke="#000" stroke-width="2.0" />
<line x1="303.00" y1="36.00" x2="303.00" y2="51.00" stroke="#000" stroke-width="1.5" />
<line x1="303.00" y1="634.00" x2="303.00" y2="619.00" stroke="#000" stroke-width="1.5" />
<line x1="303.00" y1="636.00" x2="303.00" y2="645.00" stroke="#000" stroke-width="2.0" />
<line x1="303.00" y1="955.00" x2="303.00" y2="945.50" stroke="#000" stroke-width="2.0" />
<line x1="322.93" y1="36.00" x2="322.93" y2="40.00" stroke="#000" stroke-width="1.5" />
<line x1="322.93" y1="634.00" x2="322.93" y2="630.00" stroke="#000" stroke-width="1.5" />
<line x1="322.93" y1="636.00" x2="322.93" y2="638.50" stroke="#000" stroke-width="2.0" />
<line x1="322.93" y1="955.00" x2="322.93" y2="952.50" stroke="#000" stroke-width="2.0" />
<line x1="342.86" y1="36.00" x2="342.86" y2="43.50" stroke="#000" stroke-width="1.5" />
<line x1="342.86" y1="634.00" x2="342.86" y2="626.50" stroke="#000" stroke-width="1.5" />
<line x1="342.86" y1="636.00" x2="342.86" y2="640.50" stroke="#000" stroke-width="2.0" />
<line x1="342.86" y1="955.00" x2="342.86" y2="950.50" stroke="#000" stroke-width="2.0" />
<line x1="362.79" y1="36.00" x2="362.79" y2="40.00" stroke="#000" stroke-width="1.5" />
<line x1="362.79" y1="634.00" x2="362.79" y2="630.00" stroke="#000" stroke-width="1.5" />
<line x1="362.79" y1="636.00" x2="362.79" y2="638.50" stroke="#000" stroke-width="2.0" />
<line x1="362.79" y1="955.00" x2="362.79" y2="952.50" stroke="#000" stroke-width="2.0" />
<line x1="382.72" y1="36.00" x2="382.72" y2="43.50" stroke="#000" stroke-width="1.5" />
<line x1="382.72" y1="634.00" x2="382.72" y2="626.50" stroke="#000" stroke-width="1.5" />
<line x1="382.72" y1="636.00" x2="382.72" y2="640.50" stroke="#000" stroke-width="2.0" />
<line x1="382.72" y1="955.00" x2="382.72" y2="950.50" stroke="#000" stroke-width="2.0" />
<line x1="402.65" y1="36.00" x2="402.65" y2="40.00" stroke="#000" stroke-width="1.5" />
<line x1="402.65" y1="634.00" x2="402.65" y2="630.00" stroke="#000" stroke-width="1.5" />
<line x1="402.65" y1="636.00" x2="402.65" y2="638.50" stroke="#000" stroke-width="2.0" />
<line x1="402.65" y1="955.00" x2="402.65" y2="952.50" stroke="#000" stroke-width="2.0" />
<line x1="422.58" y1="36.00" x2="422.58" y2="43.50" stroke="#000" stroke-width="1.5" />
<line x1="422.58" y1="634.00" x2="422.58" y2="626.50" stroke="#000" stroke-width="1.5" />
<line x1="422.58" y1="636.00" x2="422.58" y2="640.50" stroke="#000" stroke-width="2.0" />
<line x1="422.58" y1="955.00" x2="422.58" y2="950.50" stroke="#000" stroke-width="2.0" />
<line x1="442.51" y1="36.00" x2="442.51" y2="40.00" stroke="#000" stroke-width="1.5" />
<line x1="442.51" y1="634.00" x2="442.51" y2="630.00" stroke="#000" stroke-width="1.5" />
<line x1="442.51" y1="636.00" x2="442.51" y2="638.50" stroke="#000" stroke-width="2.0" />
<line x1="442.51" y1="955.00" x2="442.51" y2="952.50" stroke="#000" stroke-width="2.0" />
<line x1="462.44" y1="36.00" x2="462.44" y2="43.50" stroke="#000" stroke-width="1.5" />
<line x1="462.44" y1="634.00" x2="462.44" y2="626.50" stroke="#000" stroke-width="1.5" />
<line x1="462.44" y1="636.00" x2="462.44" y2="640.50" stroke="#000" stroke-width="2.0" />
<line x1="462.44" y1="955.00" x2="462.44" y2="950.50" stroke="#000" stroke-width="2.0" />
<line x1="482.37" y1="36.00" x2="482.37" y2="40.00" stroke="#000" stroke-width="1.5" />
<line x1="482.37" y1="634.00" x2="482.37" y2="630.00" stroke="#000" stroke-width="1.5" />
<line x1="482.37" y1="636.00" x2="482.37" y2="638.50" stroke="#000" stroke-width="2.0" />
<line x1="482.37" y1="955.00" x2="482.37" y2="952.50" stroke="#000" stroke-width="2.0" />
<line x1="502.30" y1="36.00" x2="502.30" y2="51.00" stroke="#000" stroke-width="1.5" />
<line x1="502.30" y1="634.00" x2="502.30" y2="619.00" stroke="#000" stroke-width="1.5" />
<line x1="502.30" y1="636.00" x2="502.30" y2="645.00" stroke="#000" stroke-width="2.0" />
<line x1="502.30" y1="955.00" x2="502.30" y2="945.50" stroke="#000" stroke-width="2.0" />
<line x1="522.23" y1="36.00" x2="522.23" y2="40.00" stroke="#000" stroke-width="1.5" />
<line x1="522.23" y1="634.00" x2="522.23" y2="630.00" stroke="#000" stroke-width="1.5" />
<line x1="522.23" y1="636.00" x2="522.23" y2="638.50" stroke="#000" stroke-width="2.0" />
<line x1="522.23" y1="955.00" x2="522.23" y2="952.50" stroke="#000" stroke-width="2.0" />
<line x1="542.16" y1="36.00" x2="542.16" y2="43.50" stroke="#000" stroke-width="1.5" />
<line x1="542.16" y1="634.00" x2="542.16" y2="626.50" stroke="#000" stroke-width="1.5" />
<line x1="542.16" y1="636.00" x2="542.16" y2="640.50" stroke="#000" stroke-width="2.0" />
<line x1="542.16" y1="955.00" x2="542.16" y2="950.50" stroke="#000" stroke-width="2.0" />
<line x1="562.09" y1="36.00" x2="562.09" y2="40.00" stroke="#000" stroke-width="1.5" />
<line x1="562.09" y1="634.00" x2="562.09" y2="630.00" stroke="#000" stroke-width="1.5" />
<line x1="562.09" y1="636.00" x2="562.09" y2="638.50" stroke="#000" stroke-width="2.0" />
<line x1="562.09" y1="955.00" x2="562.09" y2="952.50" stroke="#000" stroke-width="2.0" />
<line x1="582.02" y1="36.00" x2="582.02" y2="43.50" stroke="#000" stroke-width="1.5" />
<line x1="582.02" y1="634.00" x2="582.02" y2="626.50" stroke="#000" stroke-width="1.5" />
<line x1="582.02" y1="636.00" x2="582.02" y2="640.50" stroke="#000" stroke-width="2.0" />
<line x1="582.02" y1="955.00" x2="582.02" y2="950.50" stroke="#000" stroke-width="2.0" />
<line x1="601.95" y1="36.00" x2="601.95" y2="40.00" stroke="#000" stroke-width="1.5" />
<line x1="601.95" y1="634.00" x2="601.95" y2="630.00" stroke="#000" stroke-width="1.5" />
<line x1="601.95" y1="636.00" x2="601.95" y2="638.50" stroke="#000" stroke-width="2.0" />
<line x1="601.95" y1="955.00" x2="601.95" y2="952.50" stroke="#000" stroke-width="2.0" />
<line x1="621.88" y1="36.00" x2="621.88" y2="43.50" stroke="#000" stroke-width="1.5" />
<line x1="621.88" y1="634.00" x2="621.88" y2="626.50" stroke="#000" stroke-width="1.5" />
<line x1="621.88" y1="636.00" x2="621.88" y2="640.50" stroke="#000" stroke-width="2.0" />
<line x1="621.88" y1="955.00" x2="621.88" y2="950.50" stroke="#000" stroke-width="2.0" />
<line x1="641.81" y1="36.00" x2="641.81" y2="40.00" stroke="#000" stroke-width="1.5" />
<line x1="641.81" y1="634.00" x2="641.81" y2="630.00" stroke="#000" stroke-width="1.5" />
<line x1="641.81" y1="636.00" x2="641.81" y2="638.50" stroke="#000" stroke-width="2.0" />
<line x1="641.81" y1="955.00" x2="641.81" y2="952.50" stroke="#000" stroke-width="2.0" />
<line x1="661.74" y1="36.00" x2="661.74" y2="43.50" stroke="#000" stroke-width="1.5" />
<line x1="661.74" y1="634.00" x2="661.74" y2="626.50" stroke="#000" stroke-width="1.5" />
<line x1="661.74" y1="636.00" x2="661.74" y2="640.50" stroke="#000" stroke-width="2.0" />
<line x1="661.74" y1="955.00" x2="661.74" y2="950.50" stroke="#000" stroke-width="2.0" />
<line x1="681.67" y1="36.00" x2="681.67" y2="40.00" stroke="#000" stroke-width="1.5" />
<line x1="681.67" y1="634.00" x2="681.67" y2="630.00" stroke="#000" stroke-width="1.5" />
<line x1="681.67" y1="636.00" x2="681.67" y2="638.50" stroke="#000" stroke-width="2.0" />
<line x1="681.67" y1="955.00" x2="681.67" y2="952.50" stroke="#000" stroke-width="2.0" />
<line x1="701.60" y1="36.00" x2="701.60" y2="51.00" stroke="#000" stroke-width="1.5" />
<line x1="701.60" y1="634.00" x2="701.60" y2="619.00" stroke="#000" stroke-width="1.5" />
<line x1="701.60" y1="636.00" x2="701.60" y2="645.00" stroke="#000" stroke-width="2.0" />
<line x1="701.60" y1="955.00" x2="701.60" y2="945.50" stroke="#000" stroke-width="2.0" />
<line x1="721.53" y1="36.00" x2="721.53" y2="40.00" stroke="#000" stroke-width="1.5" />
<line x1="721.53" y1="634.00" x2="721.53" y2="630.00" stroke="#000" stroke-width="1.5" />
<line x1="721.53" y1="636.00" x2="721.53" y2="638.50" stroke="#000" stroke-width="2.0" />
<line x1="721.53" y1="955.00" x2="721.53" y2="952.50" stroke="#000" stroke-width="2.0" />
<line x1="92.10" y1="600.57" x2="102.60" y2="600.57" stroke="#000" stroke-width="1.5" />
<line x1="741.00" y1="600.57" x2="730.50" y2="600.57" stroke="#000" stroke-width="1.5" />
<line x1="92.10" y1="573.91" x2="102.60" y2="573.91" stroke="#000" stroke-width="1.5" />
<line x1="741.00" y1="573.91" x2="730.50" y2="573.91" stroke="#000" stroke-width="1.5" />
<line x1="92.10" y1="555.00" x2="102.60" y2="555.00" stroke="#000" stroke-width="1.5" />
<line x1="741.00" y1="555.00" x2="730.50" y2="555.00" stroke="#000" stroke-width="1.5" />
<line x1="92.10" y1="540.33" x2="102.60" y2="540.33" stroke="#000" stroke-width="1.5" />
<line x1="741.00" y1="540.33" x2="730.50" y2="540.33" stroke="#000" stroke-width="1.5" />
<line x1="92.10" y1="528.34" x2="102.60" y2="528.34" stroke="#000" stroke-width="1.5" />
<line x1="741.00" y1="528.34" x2="730.50" y2="528.34" stroke="#000" stroke-width="1.5" />
<line x1="92.10" y1="518.20" x2="102.60" y2="518.20" stroke="#000" stroke-width="1.5" />
<line x1="741.00" y1="518.20" x2="730.50" y2="518.20" stroke="#000" stroke-width="1.5" />
<line x1="92.10" y1="509.42" x2="102.60" y2="509.42" stroke="#000" stroke-width="1.5" />
<line x1="741.00" y1="509.42" x2="730.50" y2="509.42" stroke="#000" stroke-width="1.5" />
<line x1="92.10" y1="501.68" x2="102.60" y2="501.68" stroke="#000" stroke-width="1.5" />
<line x1="741.00" y1="501.68" x2="730.50" y2="501.68" stroke="#000" stroke-width="1.5" />
<line x1="92.10" y1="494.75" x2="114.10" y2="494.75" stroke="#000" stroke-width="1.5" />
<line x1="741.00" y1="494.75" x2="719.00" y2="494.75" stroke="#000" stroke-width="1.5" />
<line x1="92.10" y1="449.17" x2="102.60" y2="449.17" stroke="#000" stroke-width="1.5" />
<line x1="741.00" y1="449.17" x2="730.50" y2="449.17" stroke="#000" stroke-width="1.5" />
<line x1="92.10" y1="422.51" x2="102.60" y2="422.51" stroke="#000" stroke-width="1.5" />
<line x1="741.00" y1="422.51" x2="730.50" y2="422.51" stroke="#000" stroke-width="1.5" />
<line x1="92.10" y1="403.60" x2="102.60" y2="403.60" stroke="#000" stroke-width="1.5" />
<line x1="741.00" y1="403.60" x2="730.50" y2="403.60" stroke="#000" stroke-width="1.5" />
<line x1="92.10" y1="388.93" x2="102.60" y2="388.93" stroke="#000" stroke-width="1.5" />
<line x1="741.00" y1="388.93" x2="730.50" y2="388.93" stroke="#000" stroke-width="1.5" />
<line x1="92.10" y1="376.94" x2="102.60" y2="376.94" stroke="#000" stroke-width="1.5" />
<line x1="741.00" y1="376.94" x2="730.50" y2="376.94" stroke="#000" stroke-width="1.5" />
<line x1="92.10" y1="366.80" x2="102.60" y2="366.80" stroke="#000" stroke-width="1.5" />
<line x1="741.00" y1="366.80" x2="730.50" y2="366.80" stroke="#000" stroke-width="1.5" />
<line x1="92.10" y1="358.02" x2="102.60" y2="358.02" stroke="#000" stroke-width="1.5" />
<line x1="741.00" y1="358.02" x2="730.50" y2="358.02" stroke="#000" stroke-width="1.5" />
<line x1="92.10" y1="350.28" x2="102.60" y2="350.28" stroke="#000" stroke-width="1.5" />
<line x1="741.00" y1="350.28" x2="730.50" y2="350.28" stroke="#000" stroke-width="1.5" />
<line x1="92.10" y1="343.35" x2="114.10" y2="343.35" stroke="#000" stroke-width="1.5" />
<line x1="741.00" y1="343.35" x2="719.00" y2="343.35" stroke="#000" stroke-width="1.5" />
<line x1="92.10" y1="297.77" x2="102.60" y2="297.77" stroke="#000" stroke-width="1.5" />
<line x1="741.00" y1="297.77" x2="730.50" y2="297.77" stroke="#000" stroke-width="1.5" />
<line x1="92.10" y1="271.11" x2="102.60" y2="271.11" stroke="#000" stroke-width="1.5" />
<line x1="741.00" y1="271.11" x2="730.50" y2="271.11" stroke="#000" stroke-width="1.5" />
<line x1="92.10" y1="252.20" x2="102.60" y2="252.20" stroke="#000" stroke-width="1.5" />
<line x1="741.00" y1="252.20" x2="730.50" y2="252.20" stroke="#000" stroke-width="1.5" />
<line x1="92.10" y1="237.53" x2="102.60" y2="237.53" stroke="#000" stroke-width="1.5" />
<line x1="741.00" y1="237.53" x2="730.50" y2="237.53" stroke="#000" stroke-width="1.5" />
<line x1="92.10" y1="225.54" x2="102.60" y2="225.54" stroke="#000" stroke-width="1.5" />
<line x1="741.00" y1="225.54" x2="730.50" y2="225.54" stroke="#000" stroke-width="1.5" />
<line x1="92.10" y1="215.40" x2="102.60" y2="215.40" stroke="#000" stroke-width="1.5" />
<line x1="741.00" y1="215.40" x2="730.50" y2="215.40" stroke="#000" stroke-width="1.5" />
<line x1="92.10" y1="206.62" x2="102.60" y2="206.62" stroke="#000" stroke-width="1.5" />
<line x1="741.00" y1="206.62" x2="730.50" y2="206.62" stroke="#000" stroke-width="1.5" />
<line x1="92.10" y1="198.88" x2="102.60" y2="198.88" stroke="#000" stroke-width="1.5" />
<line x1="741.00" y1="198.88" x2="730.50" y2="198.88" stroke="#000" stroke-width="1.5" />
<line x1="92.10" y1="191.95" x2="114.10" y2="191.95" stroke="#000" stroke-width="1.5" />
<line x1="741.00" y1="191.95" x2="719.00" y2="191.95" stroke="#000" stroke-width="1.5" />
<line x1="92.10" y1="146.37" x2="102.60" y2="146.37" stroke="#000" stroke-width="1.5" />
<line x1="741.00" y1="146.37" x2="730.50" y2="146.37" stroke="#000" stroke-width="1.5" />
<line x1="92.10" y1="119.71" x2="102.60" y2="119.71" stroke="#000" stroke-width="1.5" />
<line x1="741.00" y1="119.71" x2="730.50" y2="119.71" stroke="#000" stroke-width="1.5" />
<line x1="92.10" y1="100.80" x2="102.60" y2="100.80" stroke="#000" stroke-width="1.5" />
<line x1="741.00" y1="100.80" x2="730.50" y2="100.80" stroke="#000" stroke-width="1.5" />
<line x1="92.10" y1="86.13" x2="102.60" y2="86.13" stroke="#000" stroke-width="1.5" />
<line x1="741.00" y1="86.13" x2="730.50" y2="86.13" stroke="#000" stroke-width="1.5" />
<line x1="92.10" y1="74.14" x2="102.60" y2="74.14" stroke="#000" stroke-width="1.5" />
<line x1="741.00" y1="74.14" x2="730.50" y2="74.14" stroke="#000" stroke-width="1.5" />
<line x1="92.10" y1="64.00" x2="102.60" y2="64.00" stroke="#000" stroke-width="1.5" />
<line x1="741.00" y1="64.00" x2="730.50" y2="64.00" stroke="#000" stroke-width="1.5" />
<line x1="92.10" y1="55.22" x2="102.60" y2="55.22" stroke="#000" stroke-width="1.5" />
<line x1="741.00" y1="55.22" x2="730.50" y2="55.22" stroke="#000" stroke-width="1.5" />
<line x1="92.10" y1="47.48" x2="102.60" y2="47.48" stroke="#000" stroke-width="1.5" />
<line x1="741.00" y1="47.48" x2="730.50" y2="47.48" stroke="#000" stroke-width="1.5" />
<line x1="92.10" y1="40.55" x2="114.10" y2="40.55" stroke="#000" stroke-width="1.5" />
<line x1="741.00" y1="40.55" x2="719.00" y2="40.55" stroke="#000" stroke-width="1.5" />
<line x1="92.10" y1="917.12" x2="106.10" y2="917.12" stroke="#000" stroke-width="1.5" />
<line x1="741.00" y1="917.12" x2="727.00" y2="917.12" stroke="#000" stroke-width="1.5" />
<line x1="92.10" y1="885.13" x2="101.60" y2="885.13" stroke="#000" stroke-width="1.5" />
<line x1="741.00" y1="885.13" x2="731.50" y2="885.13" stroke="#000" stroke-width="1.5" />
<line x1="92.10" y1="858.08" x2="101.60" y2="858.08" stroke="#000" stroke-width="1.5" />
<line x1="741.00" y1="858.08" x2="731.50" y2="858.08" stroke="#000" stroke-width="1.5" />
<line x1="92.10" y1="834.65" x2="101.60" y2="834.65" stroke="#000" stroke-width="1.5" />
<line x1="741.00" y1="834.65" x2="731.50" y2="834.65" stroke="#000" stroke-width="1.5" />
<line x1="92.10" y1="813.99" x2="101.60" y2="813.99" stroke="#000" stroke-width="1.5" />
<line x1="741.00" y1="813.99" x2="731.50" y2="813.99" stroke="#000" stroke-width="1.5" />
<line x1="92.10" y1="795.50" x2="106.10" y2="795.50" stroke="#000" stroke-width="1.5" />
<line x1="741.00" y1="795.50" x2="727.00" y2="795.50" stroke="#000" stroke-width="1.5" />
<line x1="92.10" y1="778.78" x2="101.60" y2="778.78" stroke="#000" stroke-width="1.5" />
<line x1="741.00" y1="778.78" x2="731.50" y2="778.78" stroke="#000" stroke-width="1.5" />
<line x1="92.10" y1="763.51" x2="101.60" y2="763.51" stroke="#000" stroke-width="1.5" />
<line x1="741.00" y1="763.51" x2="731.50" y2="763.51" stroke="#000" stroke-width="1.5" />
<line x1="92.10" y1="749.47" x2="101.60" y2="749.47" stroke="#000" stroke-width="1.5" />
<line x1="741.00" y1="749.47" x2="731.50" y2="749.47" stroke="#000" stroke-width="1.5" />
<line x1="92.10" y1="736.46" x2="101.60" y2="736.46" stroke="#000" stroke-width="1.5" />
<line x1="741.00" y1="736.46" x2="731.50" y2="736.46" stroke="#000" stroke-width="1.5" />
<line x1="92.10" y1="724.36" x2="106.10" y2="724.36" stroke="#000" stroke-width="1.5" />
<line x1="741.00" y1="724.36" x2="727.00" y2="724.36" stroke="#000" stroke-width="1.5" />
<line x1="92.10" y1="713.04" x2="101.60" y2="713.04" stroke="#000" stroke-width="1.5" />
<line x1="741.00" y1="713.04" x2="731.50" y2="713.04" stroke="#000" stroke-width="1.5" />
<line x1="92.10" y1="702.40" x2="101.60" y2="702.40" stroke="#000" stroke-width="1.5" />
<line x1="741.00" y1="702.40" x2="731.50" y2="702.40" stroke="#000" stroke-width="1.5" />
<line x1="92.10" y1="692.37" x2="101.60" y2="692.37" stroke="#000" stroke-width="1.5" />
<line x1="741.00" y1="692.37" x2="731.50" y2="692.37" stroke="#000" stroke-width="1.5" />
<line x1="92.10" y1="682.88" x2="101.60" y2="682.88" stroke="#000" stroke-width="1.5" />
<line x1="741.00" y1="682.88" x2="731.50" y2="682.88" stroke="#000" stroke-width="1.5" />
<line x1="92.10" y1="673.88" x2="106.10" y2="673.88" stroke="#000" stroke-width="1.5" />
<line x1="741.00" y1="673.88" x2="727.00" y2="673.88" stroke="#000" stroke-width="1.5" />
<line x1="92.10" y1="665.32" x2="101.60" y2="665.32" stroke="#000" stroke-width="1.5" />
<line x1="741.00" y1="665.32" x2="731.50" y2="665.32" stroke="#000" stroke-width="1.5" />
<line x1="92.10" y1="657.16" x2="101.60" y2="657.16" stroke="#000" stroke-width="1.5" />
<line x1="741.00" y1="657.16" x2="731.50" y2="657.16" stroke="#000" stroke-width="1.5" />
<line x1="92.10" y1="649.36" x2="101.60" y2="649.36" stroke="#000" stroke-width="1.5" />
<line x1="741.00" y1="649.36" x2="731.50" y2="649.36" stroke="#000" stroke-width="1.5" />
<line x1="92.10" y1="641.89" x2="101.60" y2="641.89" stroke="#000" stroke-width="1.5" />
<line x1="741.00" y1="641.89" x2="731.50" y2="641.89" stroke="#000" stroke-width="1.5" />
<text transform="translate(103.25,29.00) scale(1,1.055)" font-size="24.24" fill="#000">13000 GeV pp</text>
<text transform="translate(717.83,29.30) scale(1,1.055)" font-size="24.3" fill="#000">tt</text>
<rect x="724.4" y="9.0" width="6.6" height="1.7" fill="#000"/>
<text transform="translate(46.43,50.80) scale(1,1.035)" font-size="21.9" fill="#000">10</text>
<text transform="translate(70.53,41.00) scale(1,1.0)" font-size="15.3" fill="#000">2</text>
<text transform="translate(55.03,200.10) scale(1,1.035)" font-size="21.9" fill="#000">10</text>
<text transform="translate(70.33,351.90) scale(1,1.035)" font-size="21.9" fill="#000">1</text>
<text transform="translate(41.23,506.00) scale(1,1.035)" font-size="21.9" fill="#000">10</text>
<text transform="translate(64.56,497.00) scale(1,1.0)" font-size="15.0" fill="#000">−</text>
<text transform="translate(73.53,496.00) scale(1,1.0)" font-size="15.3" fill="#000">1</text>
<text transform="translate(63.45,683.10) scale(1,1.055)" font-size="22.8" fill="#000">2</text>
<text transform="translate(65.26,804.60) scale(1,1.055)" font-size="22.8" fill="#000">1</text>
<text transform="translate(44.91,925.00) scale(1,1.055)" font-size="22.8" fill="#000">0.5</text>
<text transform="translate(747.55,683.10) scale(1,1.055)" font-size="22.8" fill="#000">2</text>
<text transform="translate(747.56,804.60) scale(1,1.055)" font-size="22.8" fill="#000">1</text>
<text transform="translate(747.81,925.00) scale(1,1.055)" font-size="22.8" fill="#000">0.5</text>
<text transform="translate(97.06,978.00) scale(1,1.055)" font-size="22.8" fill="#000">0</text>
<text transform="translate(296.05,978.00) scale(1,1.055)" font-size="22.8" fill="#000">1</text>
<text transform="translate(495.66,978.00) scale(1,1.055)" font-size="22.8" fill="#000">2</text>
<text transform="translate(695.03,978.00) scale(1,1.055)" font-size="22.8" fill="#000">3</text>
<text transform="translate(187.30,129.80) scale(1,1.055)" font-size="19.0" fill="#000">ATLAS</text>
<text transform="translate(187.30,156.30) scale(1,1.055)" font-size="19.0" fill="#000">Pythia 6.428 370</text>
<text transform="translate(187.30,182.70) scale(1,1.055)" font-size="19.0" fill="#000">Pythia 6.428 391</text>
<text transform="translate(187.30,209.20) scale(1,1.055)" font-size="19.0" fill="#000">Pythia 6.428 default</text>
<text transform="translate(187.30,235.30) scale(1,1.055)" font-size="19.0" fill="#000">Pythia 6.428 pro-q2o</text>
<rect x="147.95" y="118.85" width="11.1" height="10.9" fill="#000"/>
<line x1="128.50" y1="150.40" x2="177.20" y2="150.40" stroke="#96001e" stroke-width="1.35" />
<path d="M147.30 156.30L153.20 144.65L159.10 156.30Z" fill="none" stroke="#96001e" stroke-width="1.3" stroke-linejoin="miter"/>
<line x1="128.50" y1="176.20" x2="177.20" y2="176.20" stroke="#672649" stroke-width="1.4" stroke-dasharray="7 4 1.8 4"/>
<rect x="148.35" y="171.48" width="9.7" height="9.45" fill="none" stroke="#672649" stroke-width="1.4"/>
<line x1="128.50" y1="202.40" x2="177.20" y2="202.40" stroke="#ff8030" stroke-width="1.4" stroke-dasharray="7 4 1.8 4"/>
<rect x="149.20" y="198.20" width="8.0" height="8.4" fill="#ff8030"/>
<line x1="128.50" y1="228.70" x2="177.20" y2="228.70" stroke="#008000" stroke-width="1.6" stroke-dasharray="1.9 2.1"/>
<path d="M153.20 222.40L154.90 226.35L159.19 226.75L155.96 229.60L156.90 233.80L153.20 231.60L149.50 233.80L150.44 229.60L147.21 226.75L151.50 226.35ZM153.20 230.45L151.54 229.24L152.17 227.28L154.23 227.28L154.86 229.24Z" fill="#008000" fill-rule="evenodd"/>
<text transform="translate(325.72,604.60) scale(1,1.055)" font-size="15.85" fill="#aaaaaa">(ATLAS_2019_I1759875)</text>
<g transform="rotate(-90)">
<text transform="translate(-253.16,760.00) scale(1,1.055)" font-size="18.8" fill="#808080">Rivet 4.1.0, ≥ 100k events</text>
<text transform="translate(-628.86,761.80) scale(1,1.055)" font-size="18.9" fill="#808080">mcplots.cern.ch [arXiv:1306.3436]</text>
<text transform="translate(-855.57,36.30) scale(1,1.055)" font-size="17.9" fill="#000">Ratio to ATLAS</text>
<text transform="translate(-242.92,34.80) scale(1,1.055)" font-size="24.3" fill="#000">d</text>
<text transform="translate(-231.38,22.90) scale(1,1.055)" font-size="15.5" fill="#000">2</text>
<text transform="translate(-223.40,34.65) scale(0.2625,0.2546)" font-size="100" fill="#000">σ</text>
<text transform="translate(-200.10,34.80) scale(1,1.055)" font-size="24.3" fill="#000">/</text>
<text transform="translate(-187.02,34.80) scale(1,1.055)" font-size="24.3" fill="#000">d</text>
<text transform="translate(-174.48,34.60) scale(0.2309,0.2356)" font-size="100" fill="#000" font-family="'Liberation Serif', serif">Δ</text>
<text transform="translate(-153.78,34.05) scale(0.2031,0.2327)" font-size="100" fill="#000" font-family="'Liberation Serif', serif">ϕ</text>
<text transform="translate(-142.29,18.06) scale(0.1620,0.1387)" font-size="100" fill="#000">e</text>
<text transform="translate(-133.20,18.03) scale(0.1848,0.1575)" font-size="100" fill="#000" font-family="'Liberation Serif', serif">μ</text>
<text transform="translate(-124.62,34.80) scale(1,1.055)" font-size="24.3" fill="#000">d</text>
<text transform="translate(-112.51,34.80) scale(1,1.055)" font-size="24.3" fill="#000">m</text>
<text transform="translate(-91.29,18.06) scale(0.1620,0.1387)" font-size="100" fill="#000">e</text>
<text transform="translate(-82.07,18.03) scale(0.1691,0.1575)" font-size="100" fill="#000" font-family="'Liberation Serif', serif">μ</text>
<text transform="translate(-66.93,34.80) scale(1,1.055)" font-size="24.3" fill="#000">[</text>
<text transform="translate(-60.24,34.80) scale(1,1.055)" font-size="24.3" fill="#000">f</text>
<text transform="translate(-52.07,34.80) scale(1,1.055)" font-size="24.3" fill="#000">b</text>
<text transform="translate(-39.49,34.80) scale(1,1.055)" font-size="24.3" fill="#000">]</text>
</g>
<text transform="translate(525.27,1006.80) scale(1,1.055)" font-size="24.8" fill="#000">Dilepton</text>
<text transform="translate(621.09,1006.60) scale(0.2397,0.1833)" font-size="100" fill="#000" font-family="'Liberation Serif', serif">Δ</text>
<text transform="translate(643.25,1007.06) scale(0.2511,0.2415)" font-size="100" fill="#000" font-family="'Liberation Serif', serif">ϕ</text>
<text transform="translate(655.91,992.04) scale(0.1620,0.1606)" font-size="100" fill="#000">e</text>
<text transform="translate(664.76,991.52) scale(0.2149,0.1769)" font-size="100" fill="#000" font-family="'Liberation Serif', serif">μ</text>
<text transform="translate(674.66,1009.40) scale(0.2804,0.2823)" font-size="100" fill="#000">×</text>
<text transform="translate(696.88,1006.80) scale(1,1.055)" font-size="24.4" fill="#000">m</text>
<text transform="translate(715.99,995.14) scale(0.1662,0.1625)" font-size="100" fill="#000">e</text>
<text transform="translate(724.72,994.59) scale(0.2198,0.1783)" font-size="100" fill="#000" font-family="'Liberation Serif', serif">μ</text>
</svg>
</body></html>
